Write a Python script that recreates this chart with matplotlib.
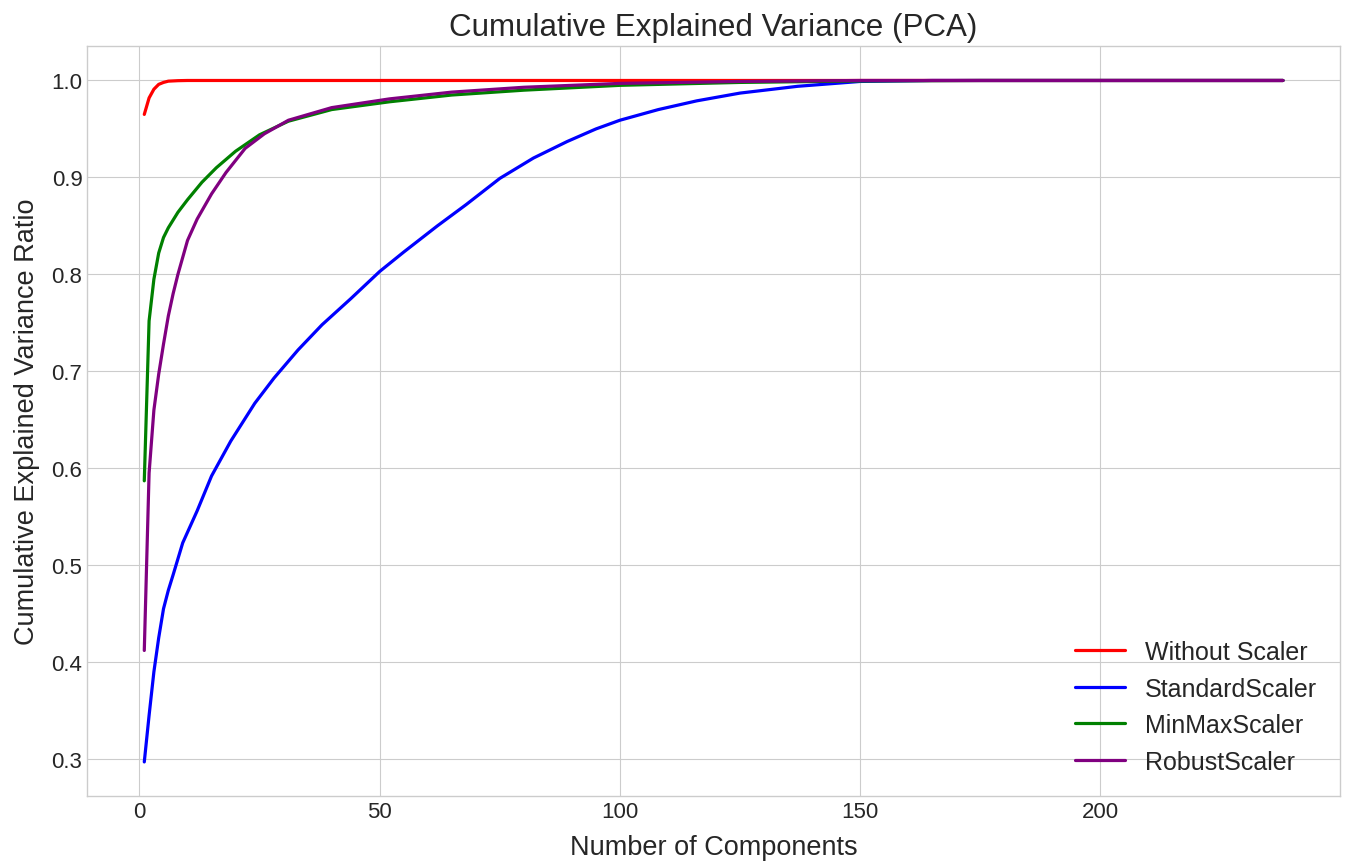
import matplotlib
matplotlib.use("Agg")
import matplotlib.pyplot as plt

plt.style.use("seaborn-v0_8-whitegrid")
plt.rcParams["font.family"] = ["Liberation Sans", "DejaVu Sans"]

# Number of components (last component index)
n_components = 238

# Without Scaler
x_none = [1, 2, 3, 4, 5, 6, 8, 10, 238]
y_none = [0.965, 0.982, 0.991, 0.996, 0.998, 0.9993, 0.9998, 1.0, 1.0]

# StandardScaler
x_std = [1, 2, 3, 4, 5, 6, 7, 9, 12, 15, 19, 24, 28, 33, 38, 44, 50, 55, 62, 68,
         75, 82, 89, 95, 100, 108, 116, 125, 137, 150, 165, 238]
y_std = [0.297, 0.345, 0.39, 0.425, 0.455, 0.474, 0.49, 0.523, 0.556, 0.592, 0.628,
         0.667, 0.693, 0.722, 0.748, 0.775, 0.803, 0.823, 0.850, 0.872, 0.899,
         0.920, 0.937, 0.950, 0.959, 0.970, 0.979, 0.987, 0.994, 0.999, 1.0, 1.0]

# MinMaxScaler
x_mm = [1, 2, 3, 4, 5, 6, 8, 10, 13, 16, 20, 25, 31, 40, 52, 65, 80, 100,
        125, 150, 175, 238]
y_mm = [0.587, 0.752, 0.795, 0.822, 0.838, 0.848, 0.864, 0.877, 0.895, 0.910,
        0.927, 0.944, 0.958, 0.970, 0.978, 0.985, 0.990, 0.995, 0.998, 0.9995,
        1.0, 1.0]

# RobustScaler
x_rb = [1, 2, 3, 4, 5, 6, 7, 8, 10, 12, 15, 18, 22, 26, 31, 40, 52, 65, 80,
        100, 125, 150, 238]
y_rb = [0.412, 0.595, 0.66, 0.697, 0.728, 0.757, 0.78, 0.80, 0.835, 0.857,
        0.883, 0.905, 0.930, 0.945, 0.959, 0.972, 0.981, 0.988, 0.993, 0.997,
        0.999, 1.0, 1.0]

series = [
    ("Without Scaler", x_none, y_none, "red"),
    ("StandardScaler", x_std, y_std, "blue"),
    ("MinMaxScaler", x_mm, y_mm, "green"),
    ("RobustScaler", x_rb, y_rb, "purple"),
]

fig, ax = plt.subplots(figsize=(13.48, 8.62), dpi=100)
fig.subplots_adjust(left=0.0648, right=0.994, bottom=0.0754, top=0.945)

for label, xs, ys, color in series:
    ax.plot(xs, ys, color=color, lw=2.3, label=label)

ax.set_title("Cumulative Explained Variance (PCA)", fontsize=22.6, pad=8)
ax.set_xlabel("Number of Components", fontsize=19.5, labelpad=9)
ax.set_ylabel("Cumulative Explained Variance Ratio", fontsize=19.5, labelpad=8)
ax.tick_params(labelsize=16)
ax.legend(loc="lower right", fontsize=18, handlelength=2.0)

fig.savefig("out.png", dpi=100)
